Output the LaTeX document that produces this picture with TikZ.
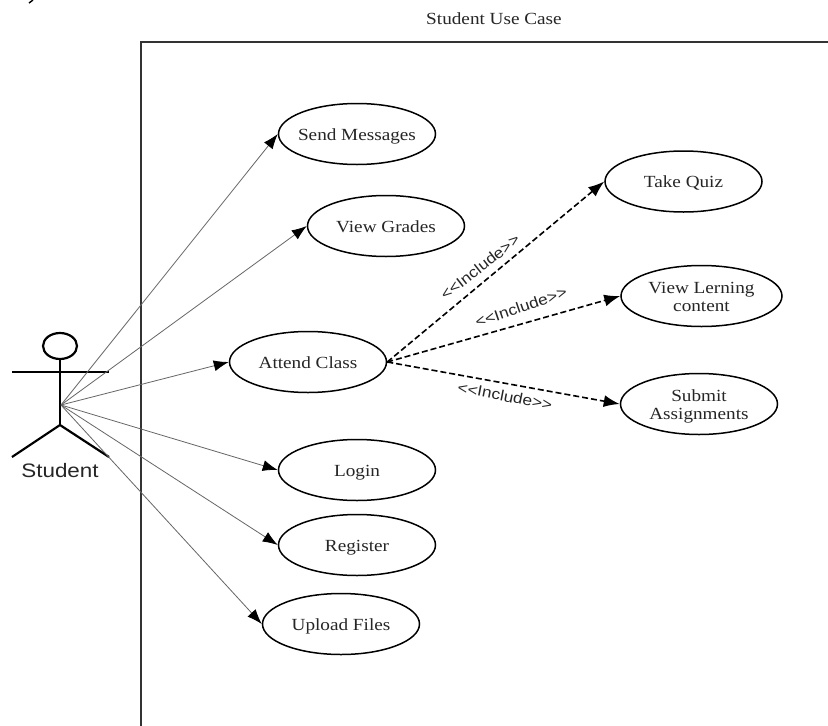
\documentclass[tikz,border=0pt]{standalone}
\usepackage{fontspec}
\setmainfont[FakeStretch=1.13]{Liberation Serif}
\newfontfamily\labelfont[FakeStretch=1.15]{Liberation Sans}
\usetikzlibrary{shapes.geometric,arrows.meta}
\newcommand{\uctext}[1]{\makebox[0pt]{\raisebox{-7pt}[0pt][0pt]{\begin{tabular}{@{}c@{}}#1\end{tabular}}}}
\tikzset{
  usecase/.style={draw=black,line width=1.5pt,ellipse,inner sep=0pt,minimum width=157pt,minimum height=61pt,text=black!85,font=\fontsize{17}{18}\selectfont},
  assoc/.style={draw=black!60,line width=0.8pt,-{Latex[length=15pt,width=11pt,black]}},
  incl/.style={draw=black,line width=1.6pt,dash pattern=on 6pt off 3pt,-{Latex[length=16pt,width=12pt,black]}},
  incllabel/.style={font=\labelfont\fontsize{15}{17}\selectfont,inner sep=0pt,text=black!85},
  actorline/.style={draw=black,line width=2.2pt},
  boundary/.style={draw=black!80,line width=1.6pt}
}
\begin{document}
\begin{tikzpicture}[x=1pt,y=-1pt]
\useasboundingbox (0,0) rectangle (828,726);
\fill[white] (0,0) rectangle (828,726);
\draw[black,line width=1.4pt] (33,0) -- (29,3);
% system boundary
\coordinate (bl) at (141,726);
\coordinate (tl) at (141,42);
\coordinate (tr) at (828,42);
\draw[boundary] (bl) -- (tl) -- (tr);
\node[font=\fontsize{17}{18}\selectfont,text=black!85] (title) at (494,19) {Student Use Case};
% use cases
\node[usecase] (send) at (357,134) {\uctext{Send Messages}};
\node[usecase] (grades) at (386,226) {\uctext{View Grades}};
\node[usecase] (attend) at (308,362) {\uctext{Attend Class}};
\node[usecase] (quiz) at (683.5,181.5) {\uctext{Take Quiz}};
\node[usecase,minimum width=161pt] (content) at (701.5,296) {\uctext{View Lerning\\content}};
\node[usecase] (submit) at (699,404) {\uctext{Submit\\Assignments}};
\node[usecase] (login) at (357,470) {\uctext{Login}};
\node[usecase] (register) at (357,545) {\uctext{Register}};
\node[usecase] (upload) at (341,624) {\uctext{Upload Files}};
% actor
\node[draw=black,line width=2.2pt,ellipse,minimum width=34pt,minimum height=26pt,inner sep=0pt] (head) at (60,346) {};
\coordinate (neck) at (60,372);
\coordinate (larm) at (12,372);
\coordinate (rarm) at (109,372);
\coordinate (hub) at (61,405);
\coordinate (hip) at (60,425);
\coordinate (lfoot) at (12,457);
\coordinate (rfoot) at (109,457);
\draw[actorline] (head) -- (hip);
\draw[actorline] (larm) -- (rarm);
\draw[actorline] (lfoot) -- (hip) -- (rfoot);
\node[font=\labelfont\fontsize{19.5}{22}\selectfont,text=black!85] (student) at (60,471) {Student};
% associations
\draw[assoc] (hub) -- (send.west);
\draw[assoc] (hub) -- (grades.west);
\draw[assoc] (hub) -- (attend.west);
\draw[assoc] (hub) -- (login.west);
\draw[assoc] (hub) -- (register.west);
\draw[assoc] (hub) -- (upload.west);
% includes
\draw[incl] (attend.east) -- (quiz.west);
\draw[incl] (attend.east) -- (content.west);
\draw[incl] (attend.east) -- (submit.west);
\node[incllabel,rotate=38] (l1) at (480,267) {<<Include>>};
\node[incllabel,rotate=19] (l2) at (521,307) {<<Include>>};
\node[incllabel,rotate=-11] (l3) at (505,396) {<<Include>>};
\end{tikzpicture}
\end{document}
